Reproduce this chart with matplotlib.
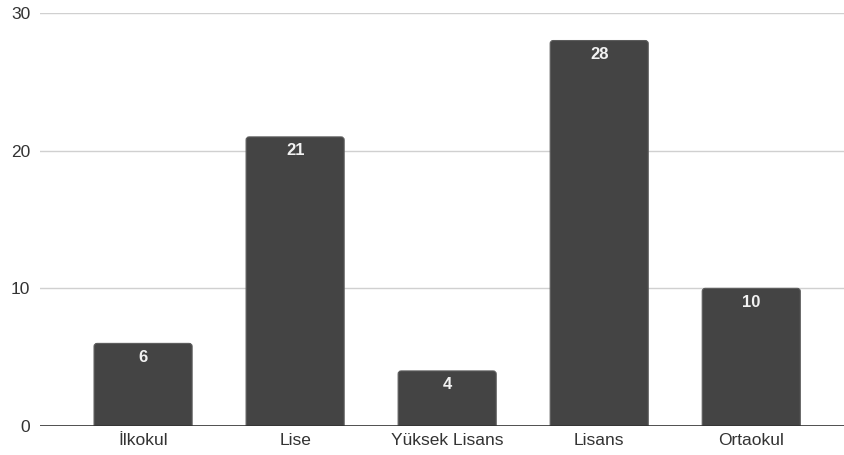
import matplotlib
matplotlib.use("Agg")
import matplotlib.pyplot as plt
from matplotlib.patches import FancyBboxPatch

# Eğitim durumu dağılımı
categories = ["İlkokul", "Lise", "Yüksek Lisans", "Lisans", "Ortaokul"]
counts = [6, 21, 4, 28, 10]
y_ticks = [0, 10, 20, 30]

plt.rcParams['font.family'] = ['Liberation Sans', 'DejaVu Sans']

fig = plt.figure(figsize=(8.44, 4.55), dpi=100)
ax = fig.add_axes([40 / 844, 29 / 455, 804 / 844, 413 / 455])

x = range(len(categories))
bars = ax.bar(x, counts, width=0.645, color="#444444", zorder=3)

# rounded tops like the sheets chart; bottom goes below 0 and gets clipped
for b, v in zip(bars, counts):
    b.set_visible(False)
    p = FancyBboxPatch((b.get_x(), -1), b.get_width(), v + 1,
                       boxstyle="round,pad=0,rounding_size=0.02",
                       mutation_aspect=11, facecolor="#444444",
                       edgecolor="#5c5c5c", linewidth=0.8, zorder=3)
    ax.add_patch(p)
    ax.annotate(str(v), (b.get_x() + b.get_width() / 2, v),
                xytext=(0, -14), textcoords="offset pixels",
                ha="center", va="center", color="#f2f2f2",
                fontsize=12, fontweight="bold", zorder=4)

ax.set_xlim(-0.678, 4.61)
ax.set_ylim(0, 30)
ax.set_yticks(y_ticks)
ax.set_xticks(list(x))
ax.set_xticklabels(categories)
ax.grid(axis="y", color="#d0d0d0", linewidth=1, zorder=0)
ax.axhline(0, color="#333333", linewidth=1.2, zorder=5)

for s in ax.spines.values():
    s.set_visible(False)
ax.tick_params(length=0, labelsize=12.5, colors="#333333")
ax.tick_params(axis="y", pad=7)
ax.tick_params(axis="x", pad=5)

fig.savefig("out.png", dpi=100, facecolor="white")
